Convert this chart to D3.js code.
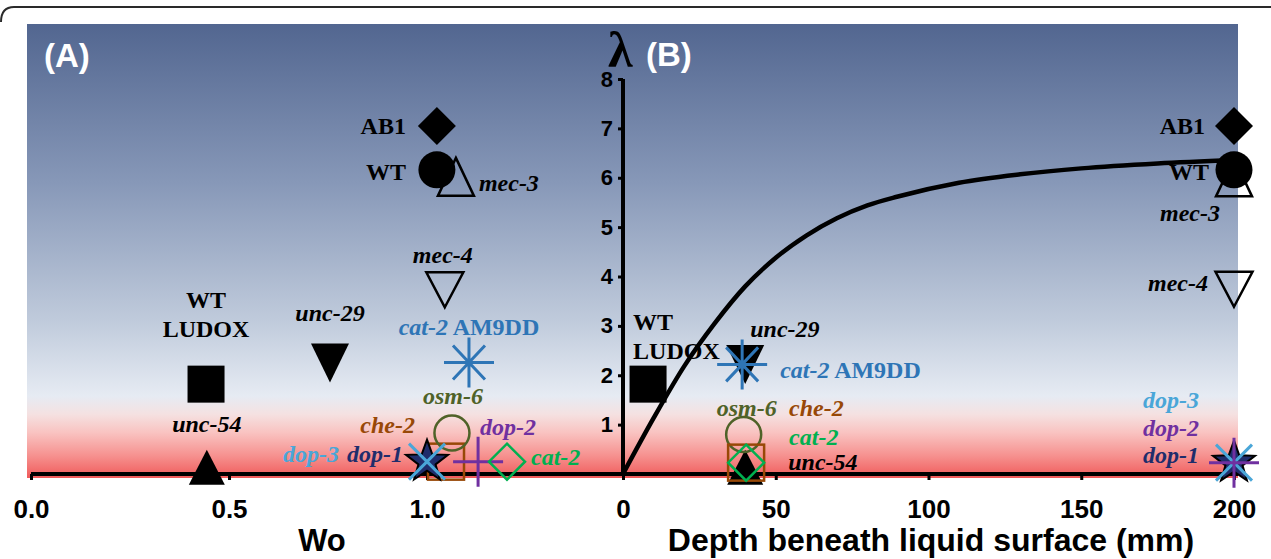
<!DOCTYPE html>
<html>
<head>
<meta charset="utf-8">
<script src="https://cdn.jsdelivr.net/npm/d3@7"></script>
<style>
  body { margin: 0; background: #fff; }
  svg { display: block; }
</style>
</head>
<body>
<svg></svg>
<script>
const width = 1271;
const height = 559;

// ---- data ----
// panel A: Wo vs lambda
const strainsA = ['WT LUDOX', 'unc-54', 'unc-29', 'mec-4', 'AB1', 'mec-3', 'WT',
  'che-2', 'osm-6', 'dop-1', 'dop-3', 'cat-2 AM9DD', 'dop-2', 'cat-2'];
const woA = [0.442, 0.444, 0.755, 1.045, 1.025, 1.073, 1.025,
  1.048, 1.063, 1.0, 1.0, 1.106, 1.129, 1.202];
const lambdaA = [1.82, 0.02, 2.38, 3.85, 7.05, 5.89, 6.16,
  0.25, 0.83, 0.25, 0.25, 2.26, 0.25, 0.25];

// panel B: depth beneath liquid surface vs lambda
const strainsB = ['WT LUDOX', 'unc-29', 'cat-2 AM9DD', 'unc-54', 'osm-6', 'che-2', 'cat-2',
  'mec-4', 'mec-3', 'AB1', 'WT', 'dop-1', 'dop-3', 'dop-2'];
const depthB = [8.2, 40, 39, 40, 39.5, 40.3, 40.3,
  200, 200, 200, 200, 200, 200, 200];
const lambdaB = [1.82, 2.35, 2.22, 0.02, 0.8, 0.23, 0.23,
  3.86, 5.88, 7.05, 6.16, 0.23, 0.23, 0.23];

// fitted curve in panel B
const curveDepth = [0, 10, 20, 30, 40, 50, 60, 70, 80, 90, 110, 130, 150, 175, 200];
const curveLambda = [0, 1.13, 2.18, 3.05, 3.8, 4.38, 4.83, 5.18, 5.44, 5.62, 5.9, 6.07, 6.19, 6.29, 6.36];

const xTicksA = [0, 0.5, 1.0];
const xTicksB = [0, 50, 100, 150, 200];
const yTicks = [1, 2, 3, 4, 5, 6, 7, 8];

// ---- styles ----
const markerStyle = {
  'AB1': { shape: 'diamond', color: '#000' },
  'WT': { shape: 'circle', color: '#000' },
  'mec-3': { shape: 'triUpOpen', color: '#000' },
  'mec-4': { shape: 'triDownOpen', color: '#000' },
  'cat-2 AM9DD': { shape: 'asterisk', color: '#2e75b6' },
  'osm-6': { shape: 'circleOpen', color: '#4f6228' },
  'che-2': { shape: 'squareOpen', color: '#984807' },
  'dop-1': { shape: 'star', color: '#1f2d6b' },
  'dop-3': { shape: 'cross', color: '#4aa6d8' },
  'dop-2': { shape: 'plus', color: '#7030a0' },
  'cat-2': { shape: 'diamondOpen', color: '#00b050' },
  'WT LUDOX': { shape: 'square', color: '#000' },
  'unc-29': { shape: 'triDown', color: '#000' },
  'unc-54': { shape: 'triUp', color: '#000' }
};

// label placement relative to the marker: [anchor, dx, dy]
const labelPosA = {
  'AB1': ['end', -31, 0], 'WT': ['end', -31, 2], 'mec-3': ['start', 23, -1],
  'mec-4': ['middle', -2, -29], 'cat-2 AM9DD': ['middle', 0, -36],
  'osm-6': ['middle', 1, -37], 'che-2': ['end', -31, -37],
  'dop-1': ['end', -24, -8], 'dop-3': ['end', -88, -8],
  'dop-2': ['start', 2, -35], 'cat-2': ['start', 24, -5],
  'WT LUDOX': ['middle', 0, -85], 'unc-29': ['middle', 0, -44], 'unc-54': ['middle', 0, -49]
};
const labelPosB = {
  'AB1': ['end', -29, 0], 'WT': ['end', -25, 2], 'mec-3': ['end', -14, 29],
  'mec-4': ['end', -26, -1], 'dop-3': ['end', -35, -63], 'dop-2': ['end', -35, -35],
  'dop-1': ['end', -35, -8], 'WT LUDOX': ['start', -15, -63],
  'unc-29': ['start', 5, -29], 'cat-2 AM9DD': ['start', 38, 5],
  'osm-6': ['middle', 3, -27], 'che-2': ['start', 43, -55],
  'cat-2': ['start', 43, -26], 'unc-54': ['start', 43, -11]
};

const svg = d3.select('svg')
    .attr('width', width)
    .attr('height', height);

const xA = d3.scaleLinear().domain([0, 1.5]).range([31, 625]);
const xB = d3.scaleLinear().domain([0, 200]).range([623, 1234]);
const y = d3.scaleLinear().domain([0, 8]).range([474, 79]);

// background gradient
const defs = svg.append('defs');
const grad = defs.append('linearGradient')
    .attr('id', 'bg')
    .attr('gradientUnits', 'userSpaceOnUse')
    .attr('x1', 0).attr('x2', 0).attr('y1', 24).attr('y2', 478);
[[0, '#526690'], [0.35, '#8798b8'], [0.65, '#bfcadb'], [0.82, '#e6ebf3'],
 [0.86, '#f5e1e1'], [0.9, '#f9c3c1'], [0.95, '#f69290'], [1, '#f05a5a']]
  .forEach(s => grad.append('stop').attr('offset', s[0]).attr('stop-color', s[1]));

// top border of the figure frame
svg.append('path')
    .attr('d', 'M1,22 Q1,7 14,7 H1271')
    .attr('fill', 'none')
    .attr('stroke', '#2a2a2a')
    .attr('stroke-width', 2);

svg.append('rect')
    .attr('x', 27).attr('y', 24)
    .attr('width', 1238 - 27).attr('height', 478 - 24)
    .attr('fill', 'url(#bg)');

// panel letters
svg.append('text')
    .attr('x', 44).attr('y', 67)
    .attr('font-family', 'Liberation Sans, Arial, sans-serif')
    .attr('font-weight', 'bold').attr('font-size', 33)
    .attr('fill', '#fff')
    .text('(A)');
svg.append('text')
    .attr('x', 646).attr('y', 66)
    .attr('font-family', 'Liberation Sans, Arial, sans-serif')
    .attr('font-weight', 'bold').attr('font-size', 33)
    .attr('fill', '#fff')
    .text('(B)');
svg.append('text')
    .attr('x', 608).attr('y', 67)
    .attr('font-family', 'Liberation Serif, Times New Roman, serif')
    .attr('font-weight', 'bold').attr('font-size', 50)
    .attr('fill', '#000')
    .text('λ');

// axes
const axisFont = 'Liberation Sans, Arial, sans-serif';

const gxA = svg.append('g')
    .attr('transform', `translate(0,${y(0)})`)
    .call(d3.axisBottom(xA).tickValues(xTicksA).tickFormat(d3.format('.1f')).tickSize(6));
const gxB = svg.append('g')
    .attr('transform', `translate(0,${y(0)})`)
    .call(d3.axisBottom(xB).tickValues(xTicksB).tickFormat(d3.format('d')).tickSize(6));
[gxA, gxB].forEach(g => {
  g.select('.domain').remove();
  g.selectAll('.tick line').attr('stroke', '#000').attr('stroke-width', 3);
  g.selectAll('.tick text')
      .attr('y', 44).attr('dy', 0)
      .attr('font-family', axisFont).attr('font-weight', 'bold')
      .attr('font-size', 26).attr('fill', '#000');
});

const gy = svg.append('g')
    .attr('transform', `translate(${xB(0)},0)`)
    .call(d3.axisLeft(y).tickValues(yTicks).tickFormat(d3.format('d')).tickSize(5).tickPadding(5));
gy.select('.domain').remove();
gy.selectAll('.tick line').attr('stroke', '#000').attr('stroke-width', 3);
gy.selectAll('.tick text')
    .attr('font-family', axisFont).attr('font-weight', 'bold')
    .attr('font-size', 22).attr('fill', '#000');

svg.append('line')
    .attr('x1', xA(0)).attr('x2', 1238)
    .attr('y1', y(0)).attr('y2', y(0))
    .attr('stroke', '#000').attr('stroke-width', 4);
svg.append('line')
    .attr('x1', xB(0)).attr('x2', xB(0))
    .attr('y1', y(8)).attr('y2', y(0) + 2)
    .attr('stroke', '#000').attr('stroke-width', 4);

svg.append('text')
    .attr('x', 322).attr('y', 551)
    .attr('text-anchor', 'middle')
    .attr('font-family', axisFont).attr('font-weight', 'bold').attr('font-size', 31)
    .text('Wo');
svg.append('text')
    .attr('x', 931).attr('y', 551)
    .attr('text-anchor', 'middle')
    .attr('font-family', axisFont).attr('font-weight', 'bold').attr('font-size', 32)
    .text('Depth beneath liquid surface (mm)');

// labels
function labelLines(name) {
  if (name === 'WT LUDOX') return [[['WT', false]], [['LUDOX', false]]];
  if (name === 'cat-2 AM9DD') return [[['cat-2', true], [' AM9DD', false]]];
  if (name === 'AB1' || name === 'WT') return [[[name, false]]];
  return [[[name, true]]];
}

function drawLabels(names, xs, ys, xScale, pos) {
  names.forEach((name, i) => {
    const p = pos[name];
    const cx = xScale(xs[i]) + p[1];
    const cy = y(ys[i]) + p[2];
    const color = markerStyle[name].color;
    labelLines(name).forEach((line, li) => {
      const t = svg.append('text')
          .attr('x', cx).attr('y', cy + li * 29)
          .attr('dy', '0.35em')
          .attr('text-anchor', p[0])
          .attr('font-family', 'Liberation Serif, Times New Roman, serif')
          .attr('font-weight', 'bold')
          .attr('font-size', 24)
          .attr('fill', color);
      line.forEach(part => {
        t.append('tspan')
            .attr('font-style', part[1] ? 'italic' : 'normal')
            .style('white-space', 'pre')
            .text(part[0]);
      });
    });
  });
}
drawLabels(strainsA, woA, lambdaA, xA, labelPosA);
drawLabels(strainsB, depthB, lambdaB, xB, labelPosB);

// fitted curve
const curveLine = d3.line()
    .x((d, i) => xB(curveDepth[i]))
    .y((d, i) => y(curveLambda[i]))
    .curve(d3.curveMonotoneX);
svg.append('path')
    .attr('d', curveLine(curveDepth))
    .attr('fill', 'none')
    .attr('stroke', '#000')
    .attr('stroke-width', 4.5);

// markers
function starPath(R, r) {
  const pts = [];
  for (let k = 0; k < 10; k++) {
    const a = -Math.PI / 2 + k * Math.PI / 5;
    const rad = k % 2 ? r : R;
    pts.push([rad * Math.cos(a), rad * Math.sin(a)]);
  }
  return 'M' + pts.map(p => p.join(',')).join('L') + 'Z';
}

function triPath(w, h, up) {
  const s = up ? 1 : -1;
  return `M0,${-s * 2 * h / 3}L${w / 2},${s * h / 3}L${-w / 2},${s * h / 3}Z`;
}

function drawMarker(g, shape, color) {
  const sw = 2.5;
  switch (shape) {
    case 'diamond':
      g.append('path').attr('d', 'M0,-19L19,0L0,19L-19,0Z').attr('fill', color);
      break;
    case 'diamondOpen':
      g.append('path').attr('d', 'M0,-18L18,0L0,18L-18,0Z')
          .attr('fill', 'none').attr('stroke', color).attr('stroke-width', sw);
      break;
    case 'circle':
      g.append('circle').attr('r', 18.5).attr('fill', color);
      break;
    case 'circleOpen':
      g.append('circle').attr('r', 17.5)
          .attr('fill', 'none').attr('stroke', color).attr('stroke-width', sw);
      break;
    case 'square':
      g.append('rect').attr('x', -18.5).attr('y', -18.5).attr('width', 37).attr('height', 37)
          .attr('fill', color);
      break;
    case 'squareOpen':
      g.append('rect').attr('x', -18).attr('y', -18).attr('width', 36).attr('height', 36)
          .attr('fill', 'none').attr('stroke', color).attr('stroke-width', sw);
      break;
    case 'triUp':
      g.append('path').attr('d', triPath(36, 35, true)).attr('fill', color);
      break;
    case 'triUpOpen':
      g.append('path').attr('d', triPath(36, 38, true))
          .attr('fill', 'none').attr('stroke', color).attr('stroke-width', sw);
      break;
    case 'triDown':
      g.append('path').attr('d', triPath(38, 39, false)).attr('fill', color);
      break;
    case 'triDownOpen':
      g.append('path').attr('d', triPath(37, 35, false))
          .attr('fill', 'none').attr('stroke', color).attr('stroke-width', sw);
      break;
    case 'star':
      g.append('path').attr('d', starPath(22, 9))
          .attr('fill', color).attr('stroke', '#000').attr('stroke-width', 2);
      break;
    case 'asterisk':
      g.append('path').attr('d', 'M-25,0H25M0,-25V25M-16,-17L16,17M-16,17L16,-17')
          .attr('stroke', color).attr('stroke-width', 3);
      break;
    case 'cross':
      g.append('path').attr('d', 'M-18,-18L18,18M-18,18L18,-18')
          .attr('stroke', color).attr('stroke-width', 3);
      break;
    case 'plus':
      g.append('path').attr('d', 'M-25,0H25M0,-25V25')
          .attr('stroke', color).attr('stroke-width', 3);
      break;
  }
}

function drawMarkers(names, xs, ys, xScale) {
  names.forEach((name, i) => {
    const st = markerStyle[name];
    const g = svg.append('g')
        .attr('transform', `translate(${xScale(xs[i])},${y(ys[i])})`);
    drawMarker(g, st.shape, st.color);
  });
}
drawMarkers(strainsA, woA, lambdaA, xA);
drawMarkers(strainsB, depthB, lambdaB, xB);
</script>
</body>
</html>
